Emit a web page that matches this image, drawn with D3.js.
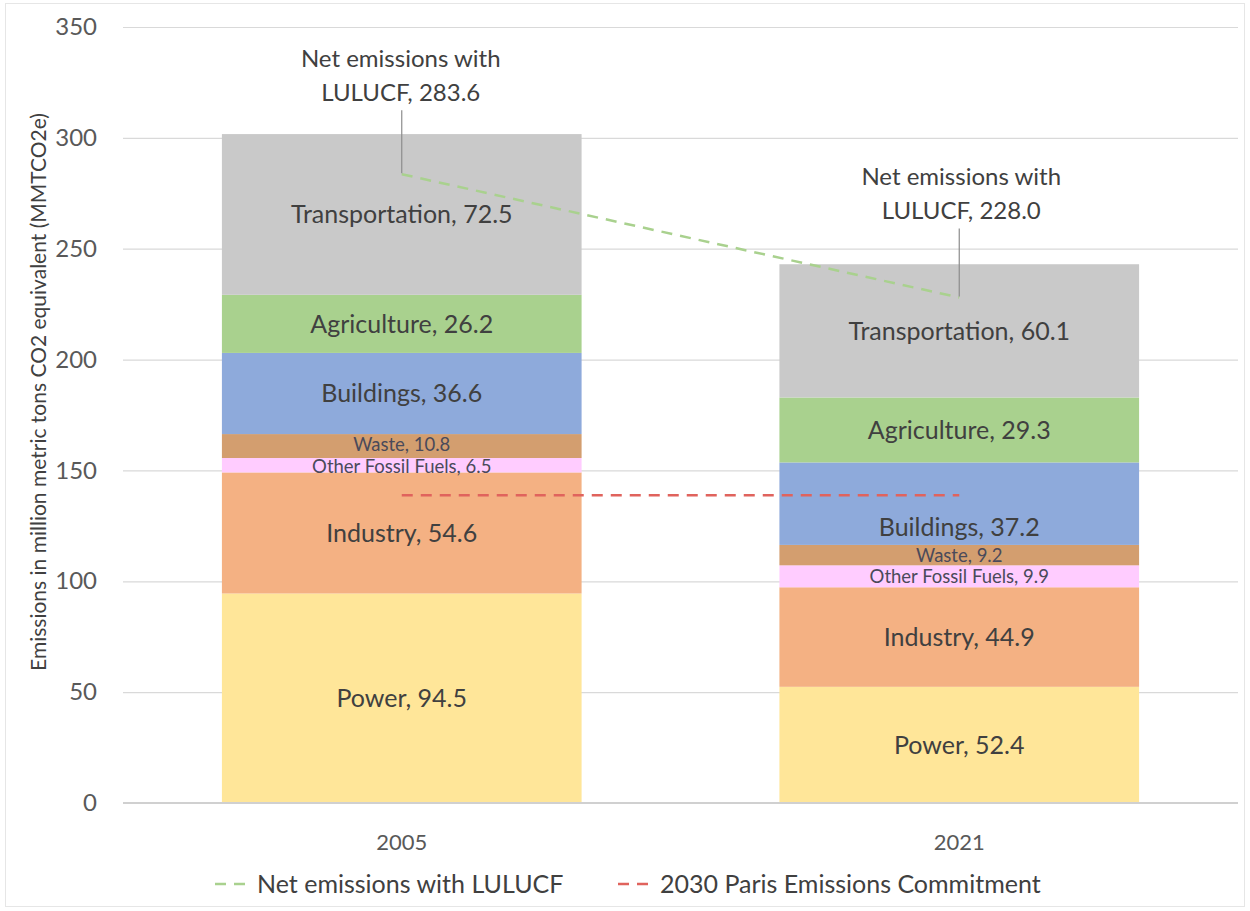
<!DOCTYPE html>
<html>
<head>
<meta charset="utf-8">
<script src="https://cdn.jsdelivr.net/npm/d3@7"></script>
<style>
  html, body { margin: 0; padding: 0; background: #fff; }
  svg { display: block; font-family: Lato, "Noto Sans", sans-serif; }
</style>
</head>
<body>
<svg id="chart" width="1250" height="911"></svg>
<script>
// ---------------- DATA ----------------
const years = ["2005", "2021"];
const sectors = ["Power", "Industry", "Other Fossil Fuels", "Waste", "Buildings", "Agriculture", "Transportation"];
const power = [94.5, 52.4];
const industry = [54.6, 44.9];
const otherFossilFuels = [6.5, 9.9];
const waste = [10.8, 9.2];
const buildings = [36.6, 37.2];
const agriculture = [26.2, 29.3];
const transportation = [72.5, 60.1];
const netEmissionsLULUCF = [283.6, 228.0];
const parisCommitment2030 = [138.8, 138.8];
const yTicks = [0, 50, 100, 150, 200, 250, 300, 350];
const yTitle = "Emissions in million metric tons CO2 equivalent (MMTCO2e)";
const legendLabels = ["Net emissions with LULUCF", "2030 Paris Emissions Commitment"];

const sectorValues = [power, industry, otherFossilFuels, waste, buildings, agriculture, transportation];
const sectorColors = ["#ffe699", "#f4b183", "#ffccff", "#d39e6f", "#8eaadb", "#a9d18e", "#c9c9c9"];

// ---------------- SETUP ----------------
const svg = d3.select("#chart");
const W = 1250, H = 911;
const plot = { left: 123, right: 1238, top: 27, bottom: 803 };

svg.append("rect").attr("x", 5.5).attr("y", 3.5).attr("width", W - 11).attr("height", H - 8)
  .attr("fill", "#fff").attr("stroke", "#e6e6e6").attr("stroke-width", 1);

const x = d3.scaleBand().domain(years).range([plot.left, plot.right]).padding(0);
const y = d3.scaleLinear().domain([0, 350]).range([plot.bottom, plot.top]);
const barW = x.bandwidth() / 1.55;

// grid
const yAxis = d3.axisLeft(y).tickValues(yTicks).tickSize(-(plot.right - plot.left)).tickPadding(26);
const gy = svg.append("g").attr("transform", `translate(${plot.left},0)`).call(yAxis);
gy.select(".domain").remove();
gy.selectAll(".tick line").attr("stroke", "#d9d9d9").attr("stroke-width", 1.2);
gy.selectAll(".tick text").attr("fill", "#595959").attr("font-size", 24).attr("font-family", "Lato, sans-serif");

// stacked data
const table = years.map((yr, i) => {
  const o = { year: yr };
  sectors.forEach((s, k) => o[s] = sectorValues[k][i]);
  return o;
});
const stacked = d3.stack().keys(sectors)(table);

const layers = svg.append("g").selectAll("g").data(stacked).join("g")
  .attr("fill", (d, i) => sectorColors[i]);
layers.selectAll("rect").data(d => d).join("rect")
  .attr("x", d => x(d.data.year) + (x.bandwidth() - barW) / 2)
  .attr("width", barW)
  .attr("y", d => y(d[1]))
  .attr("height", d => y(d[0]) - y(d[1]));

// baseline
svg.append("line").attr("x1", plot.left).attr("x2", plot.right)
  .attr("y1", y(0)).attr("y2", y(0)).attr("stroke", "#d0d0d0").attr("stroke-width", 2);

// x axis labels
const xAxis = d3.axisBottom(x).tickSize(0).tickPadding(31);
const gx = svg.append("g").attr("transform", `translate(0,${plot.bottom})`).call(xAxis);
gx.select(".domain").remove();
gx.selectAll(".tick text").attr("fill", "#595959").attr("font-size", 22).attr("font-family", "Lato, sans-serif");

// segment labels
const smallSectors = new Set(["Other Fossil Fuels", "Waste"]);
const labelShift = { "2021|Buildings": 23, "2005|Waste": -1.5, "2005|Other Fossil Fuels": 1.5 };
stacked.forEach(layer => {
  layer.forEach(d => {
    const key = d.data.year + "|" + layer.key;
    const cy = y((d[0] + d[1]) / 2) + (labelShift[key] || 0);
    const small = smallSectors.has(layer.key);
    svg.append("text")
      .attr("x", x(d.data.year) + x.bandwidth() / 2)
      .attr("y", cy)
      .attr("dy", "0.36em")
      .attr("text-anchor", "middle")
      .attr("font-size", small ? 18.5 : 25)
      .attr("fill", small ? "#4a4a5a" : "#404040")
      .text(`${layer.key}, ${d3.format(".1f")(d.data[layer.key])}`);
  });
});

// Paris commitment line
const lineGen = d3.line().x(d => x(d.year) + x.bandwidth() / 2).y(d => y(d.v));
svg.append("path")
  .datum(years.map((yr, i) => ({ year: yr, v: parisCommitment2030[i] })))
  .attr("d", lineGen).attr("fill", "none")
  .attr("stroke", "#e0635d").attr("stroke-width", 2.5).attr("stroke-dasharray", "11,8");

// Net emissions line
svg.append("path")
  .datum(years.map((yr, i) => ({ year: yr, v: netEmissionsLULUCF[i] })))
  .attr("d", lineGen).attr("fill", "none")
  .attr("stroke", "#a9d18e").attr("stroke-width", 2.5).attr("stroke-dasharray", "11,8");

// Net emissions callouts
const leaderLen = [64, 69];
const labelDx = [-1, 2];
years.forEach((yr, i) => {
  const px = x(yr) + x.bandwidth() / 2;
  const py = y(netEmissionsLULUCF[i]);
  const top = py - leaderLen[i];
  svg.append("line").attr("x1", px).attr("x2", px).attr("y1", top).attr("y2", py - 1)
    .attr("stroke", "#8c8c8c").attr("stroke-width", 1.2);
  const t = svg.append("text").attr("text-anchor", "middle").attr("font-size", 24).attr("fill", "#404040");
  t.append("tspan").attr("x", px + labelDx[i]).attr("y", top - 52).attr("dy", "0.36em").text("Net emissions with");
  t.append("tspan").attr("x", px + labelDx[i]).attr("y", top - 18).attr("dy", "0.36em")
    .text(`LULUCF, ${d3.format(".1f")(netEmissionsLULUCF[i])}`);
});

// y axis title
svg.append("text")
  .attr("transform", `translate(38,392) rotate(-90)`)
  .attr("text-anchor", "middle").attr("dy", "0.36em")
  .attr("font-size", 21).attr("fill", "#404040")
  .text(yTitle);

// legend
const legendItems = [
  { label: legendLabels[0], color: "#a9d18e", x: 215 },
  { label: legendLabels[1], color: "#e0635d", x: 618 }
];
const ly = 884;
legendItems.forEach(it => {
  svg.append("line").attr("x1", it.x).attr("x2", it.x + 38).attr("y1", ly).attr("y2", ly)
    .attr("stroke", it.color).attr("stroke-width", 2.5).attr("stroke-dasharray", "11,8");
  svg.append("text").attr("x", it.x + 42).attr("y", ly).attr("dy", "0.36em")
    .attr("font-size", 25).attr("fill", "#404040").text(it.label);
});
</script>
</body>
</html>
